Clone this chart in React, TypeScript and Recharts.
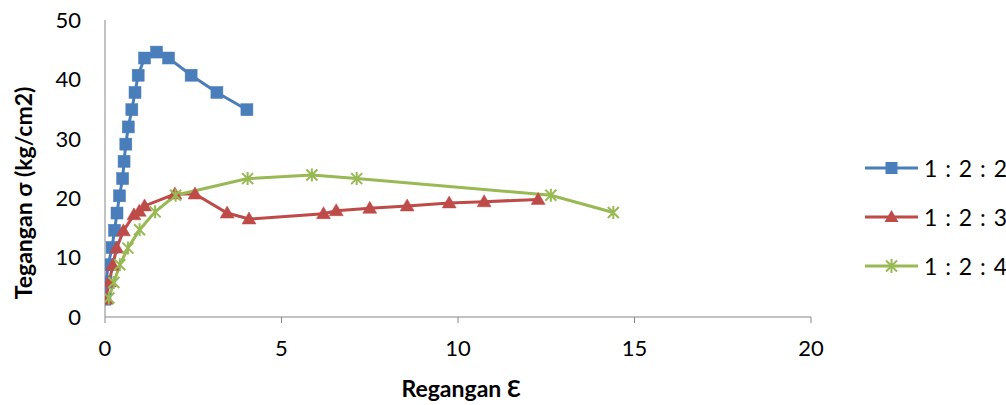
import React from 'react';
import { LineChart, Line, XAxis, YAxis, Legend } from 'recharts';

const blueX = [0, 0.03, 0.09, 0.2, 0.27, 0.34, 0.41, 0.5, 0.54, 0.59, 0.66, 0.76, 0.85, 0.94, 1.12, 1.46, 1.8, 2.44, 3.17, 4.02];
const blueY = [3.0, 5.9, 8.8, 11.7, 14.6, 17.5, 20.4, 23.3, 26.2, 29.1, 32.0, 34.9, 37.8, 40.7, 43.6, 44.6, 43.6, 40.7, 37.8, 34.9];

const redX = [0.03, 0.12, 0.22, 0.33, 0.52, 0.82, 0.97, 1.12, 1.98, 2.55, 3.46, 4.08, 6.19, 6.55, 7.5, 8.56, 9.75, 10.74, 12.27];
const redY = [3.0, 5.9, 8.7, 11.6, 14.5, 17.2, 17.8, 18.7, 20.7, 20.7, 17.5, 16.5, 17.4, 17.9, 18.3, 18.7, 19.2, 19.4, 19.8];

const greenX = [0.11, 0.25, 0.42, 0.65, 0.98, 1.42, 2.0, 4.04, 5.86, 7.13, 12.63, 14.4];
const greenY = [3.2, 5.8, 8.8, 11.6, 14.7, 17.7, 20.5, 23.3, 23.9, 23.3, 20.5, 17.6];

const seriesNames = ['1 : 2 : 2', '1 : 2 : 3', '1 : 2 : 4'];
const xTicks = [0, 5, 10, 15, 20];
const yTicks = [0, 10, 20, 30, 40, 50];

const xTitle = 'Regangan Ɛ';
const yTitle = 'Tegangan σ (kg/cm2)';

const toRows = (xs: number[], ys: number[]) => xs.map((x, i) => ({ x, y: ys[i] }));
const blueData = toRows(blueX, blueY);
const redData = toRows(redX, redY);
const greenData = toRows(greenX, greenY);

const BLUE = '#4A7EBB';
const RED = '#BE4B48';
const GREEN = '#98B954';
const AXIS = '#868686';
const FONT = 'Lato, "Open Sans", sans-serif';

const Square = (p: any) => {
  const { cx, cy, key } = p;
  if (cx == null || cy == null) return <g key={key} />;
  return <rect key={key} x={cx - 6} y={cy - 6} width={12} height={12} fill={BLUE} stroke={BLUE} strokeWidth={0.5} />;
};

const Tri = (p: any) => {
  const { cx, cy, key } = p;
  if (cx == null || cy == null) return <g key={key} />;
  return <path key={key} d={`M${cx},${cy - 7} L${cx + 7},${cy + 5} L${cx - 7},${cy + 5} Z`} fill={RED} stroke={RED} strokeWidth={0.5} />;
};

const Star = (p: any) => {
  const { cx, cy, key } = p;
  if (cx == null || cy == null) return <g key={key} />;
  const r = 5.5;
  return (
    <path
      key={key}
      d={`M${cx - r},${cy - r} L${cx + r},${cy + r} M${cx - r},${cy + r} L${cx + r},${cy - r} M${cx},${cy - r - 1} L${cx},${cy + r + 1}`}
      stroke={GREEN}
      strokeWidth={2}
      fill="none"
    />
  );
};

const legendColors = [BLUE, RED, GREEN];

const LegendContent = () => (
  <div style={{ fontFamily: FONT, fontSize: 23, color: '#000', wordSpacing: 2 }}>
    {seriesNames.map((name, i) => (
      <div key={name} style={{ display: 'flex', alignItems: 'center', height: 49, whiteSpace: 'nowrap' }}>
        <svg width={60} height={20} style={{ display: 'block', flexShrink: 0 }}>
          <line x1={1} y1={10} x2={54} y2={10} stroke={legendColors[i]} strokeWidth={3} />
          {i === 0 && <rect x={21.5} y={4} width={12} height={12} fill={BLUE} />}
          {i === 1 && <path d="M27.5,3 L34.5,15 L20.5,15 Z" fill={RED} />}
          {i === 2 && (
            <path d="M22,4.5 L33,15.5 M22,15.5 L33,4.5 M27.5,3 L27.5,17" stroke={GREEN} strokeWidth={2} fill="none" />
          )}
        </svg>
        <span style={{ flexShrink: 0 }}>{name}</span>
      </div>
    ))}
  </div>
);

export default function App() {
  return (
    <div style={{ position: 'absolute', left: 0, top: 0, background: '#fff' }}>
      <LineChart width={1006} height={405} margin={{ top: 20, right: 195, bottom: 0, left: 0 }}>
        <XAxis
          type="number"
          dataKey="x"
          domain={[0, 20]}
          ticks={xTicks}
          allowDataOverflow
          height={88}
          stroke={AXIS}
          tickSize={6}
          tickMargin={17}
          tick={{ fill: '#000', fontSize: 22, fontFamily: FONT }}
          label={(props: any) => {
            const vb = props.viewBox || {};
            return (
              <text
                x={vb.x + vb.width / 2 + 3}
                y={388}
                textAnchor="middle"
                dominantBaseline="central"
                fontFamily={FONT}
                fontWeight="bold"
                fontSize={23}
                fill="#000"
              >
                {xTitle}
              </text>
            );
          }}
        />
        <YAxis
          type="number"
          domain={[0, 50]}
          ticks={yTicks}
          allowDataOverflow
          width={105}
          stroke={AXIS}
          tickLine={false}
          tickSize={0}
          tickMargin={24}
          tick={{ fill: '#000', fontSize: 22, fontFamily: FONT }}
          label={() => (
            <text
              transform={`translate(23, 193) rotate(-90)`}
              textAnchor="middle"
              dominantBaseline="central"
              fontFamily={FONT}
              fontWeight="bold"
              fontSize={23}
              fill="#000"
            >
              {yTitle}
            </text>
          )}
        />
        <Legend
          layout="vertical"
          align="center"
          verticalAlign="middle"
          content={<LegendContent />}
          wrapperStyle={{ left: 864, top: 143, width: 142, overflow: 'visible' }}
        />
        <Line data={blueData} dataKey="y" name={seriesNames[0]} type="linear" stroke={BLUE} strokeWidth={3} dot={Square} isAnimationActive={false} />
        <Line data={redData} dataKey="y" name={seriesNames[1]} type="linear" stroke={RED} strokeWidth={3} dot={Tri} isAnimationActive={false} />
        <Line data={greenData} dataKey="y" name={seriesNames[2]} type="linear" stroke={GREEN} strokeWidth={3} dot={Star} isAnimationActive={false} />
      </LineChart>
    </div>
  );
}
